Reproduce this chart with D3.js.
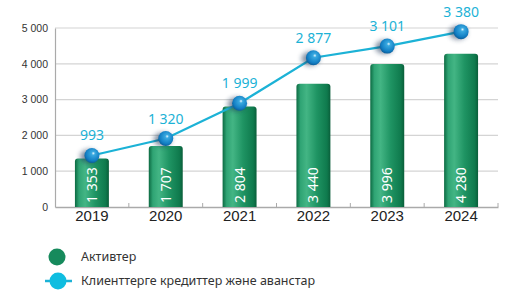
<!DOCTYPE html>
<html>
<head>
<meta charset="utf-8">
<script src="https://cdn.jsdelivr.net/npm/d3@7"></script>
<style>
  body { margin: 0; background: #fff; }
  svg { display: block; font-family: "Noto Sans", "Open Sans", sans-serif; }
</style>
</head>
<body>
<svg></svg>
<script>
// data
let years = ["2019", "2020", "2021", "2022", "2023", "2024"]
let assets = [1353, 1707, 2804, 3440, 3996, 4280]
let loans = [993, 1320, 1999, 2877, 3101, 3380]
let yTicks = [0, 1000, 2000, 3000, 4000, 5000]
let legendNames = ["Активтер", "Клиенттерге кредиттер және аванстар"]

let width = 517
let height = 307
let plotLeft = 55
let plotRight = 498
let plotTop = 28
let plotBottom = 207

let fmt = v => d3.format(",")(v).replace(/,/g, " ")

let svg = d3.select("svg")
    .attr("width", width)
    .attr("height", height)

let defs = svg.append("defs")

let barGrad = defs.append("linearGradient").attr("id", "barGrad")
    .attr("x1", "0").attr("x2", "1").attr("y1", "0").attr("y2", "0")
barGrad.append("stop").attr("offset", "0%").attr("stop-color", "#0c6a42")
barGrad.append("stop").attr("offset", "12%").attr("stop-color", "#2fa474")
barGrad.append("stop").attr("offset", "30%").attr("stop-color", "#43b584")
barGrad.append("stop").attr("offset", "60%").attr("stop-color", "#1f9463")
barGrad.append("stop").attr("offset", "90%").attr("stop-color", "#0f7a4d")
barGrad.append("stop").attr("offset", "100%").attr("stop-color", "#0a5e3a")

let ballGrad = defs.append("radialGradient").attr("id", "ballGrad")
    .attr("cx", "55%").attr("cy", "40%").attr("r", "60%")
    .attr("fx", "60%").attr("fy", "35%")
ballGrad.append("stop").attr("offset", "0%").attr("stop-color", "#e8f8ff")
ballGrad.append("stop").attr("offset", "20%").attr("stop-color", "#39a9e0")
ballGrad.append("stop").attr("offset", "75%").attr("stop-color", "#137fc4")
ballGrad.append("stop").attr("offset", "100%").attr("stop-color", "#0b5f9c")

let blur = defs.append("filter").attr("id", "shadow")
    .attr("x", "-100%").attr("y", "-100%").attr("width", "300%").attr("height", "300%")
blur.append("feGaussianBlur").attr("stdDeviation", 2.5)

let xScale = d3.scaleBand()
    .domain(years)
    .range([plotLeft, plotRight])
    .paddingInner(0.54)
    .paddingOuter(0.27)

let yScale = d3.scaleLinear()
    .domain([0, 5000])
    .range([plotBottom, plotTop])

// the line sits on its own (unlabelled) scale in the original
let y2Scale = d3.scaleLinear()
    .domain([0, 3450])
    .range([plotBottom, plotTop])

// grid
svg.append("g")
    .selectAll("line")
    .data(yTicks.slice(1))
    .enter()
    .append("line")
    .attr("x1", plotLeft)
    .attr("x2", plotRight)
    .attr("y1", d => yScale(d))
    .attr("y2", d => yScale(d))
    .attr("stroke", "#d4d4d4")
    .attr("stroke-width", 1.2)

// y axis
let yAxis = d3.axisLeft(yScale)
    .tickValues(yTicks)
    .tickSize(0)
    .tickPadding(7)
    .tickFormat(fmt)

let yg = svg.append("g")
    .attr("transform", "translate(" + plotLeft + ",0)")
    .call(yAxis)
yg.select(".domain").attr("stroke", "#aaa").attr("stroke-width", 1.2)
yg.selectAll("text").style("font-size", "10.5px").attr("fill", "#333")

// x axis
let xAxis = d3.axisBottom(xScale).tickSize(0).tickPadding(5)
let xg = svg.append("g")
    .attr("transform", "translate(0," + plotBottom + ")")
    .call(xAxis)
xg.select(".domain").attr("stroke", "#aaa").attr("stroke-width", 1.5)
xg.selectAll("text").style("font-size", "15px").attr("fill", "#222").attr("dy", "0.6em")

// small separators between categories
svg.append("g")
    .selectAll("line")
    .data(years)
    .enter()
    .append("line")
    .attr("x1", d => xScale(d) + xScale.bandwidth() + xScale.step() * 0.27)
    .attr("x2", d => xScale(d) + xScale.bandwidth() + xScale.step() * 0.27)
    .attr("y1", plotBottom)
    .attr("y2", plotBottom - 4)
    .attr("stroke", "#aaa")

// bars
svg.append("g")
    .selectAll("path")
    .data(assets)
    .enter()
    .append("path")
    .attr("d", (d, i) => {
        let x0 = xScale(years[i])
        let w = xScale.bandwidth()
        let y0 = yScale(d)
        let r = 3
        return "M" + x0 + "," + plotBottom + "V" + (y0 + r) + "Q" + x0 + "," + y0 + " " + (x0 + r) + "," + y0 +
            "H" + (x0 + w - r) + "Q" + (x0 + w) + "," + y0 + " " + (x0 + w) + "," + (y0 + r) + "V" + plotBottom + "Z"
    })
    .attr("fill", "url(#barGrad)")

// bar values
svg.append("g")
    .selectAll("text")
    .data(assets)
    .enter()
    .append("text")
    .attr("transform", (d, i) => "translate(" + (xScale(years[i]) + xScale.bandwidth() / 2 + 5) + "," + (plotBottom - 4) + ") rotate(-90)")
    .attr("fill", "#fff")
    .style("font-size", "14px")
    .text(d => fmt(d))

// line
let line = d3.line()
    .x((d, i) => xScale(years[i]) + xScale.bandwidth() / 2)
    .y(d => y2Scale(d))

svg.append("path")
    .datum(loans)
    .attr("d", line)
    .attr("fill", "none")
    .attr("stroke", "#1cb2d6")
    .attr("stroke-width", 2.2)

// ball shadows
svg.append("g")
    .selectAll("ellipse")
    .data(loans)
    .enter()
    .append("ellipse")
    .attr("cx", (d, i) => xScale(years[i]) + xScale.bandwidth() / 2 - 3)
    .attr("cy", d => y2Scale(d) + 1)
    .attr("rx", 9)
    .attr("ry", 7)
    .attr("fill", "#1d3557")
    .attr("opacity", 0.55)
    .attr("filter", "url(#shadow)")

// balls
svg.append("g")
    .selectAll("circle")
    .data(loans)
    .enter()
    .append("circle")
    .attr("cx", (d, i) => xScale(years[i]) + xScale.bandwidth() / 2)
    .attr("cy", d => y2Scale(d))
    .attr("r", 7.5)
    .attr("fill", "url(#ballGrad)")

// line values
svg.append("g")
    .selectAll("text")
    .data(loans)
    .enter()
    .append("text")
    .attr("x", (d, i) => xScale(years[i]) + xScale.bandwidth() / 2)
    .attr("y", d => y2Scale(d) - 15)
    .attr("text-anchor", "middle")
    .attr("fill", "#1cb2d6")
    .style("font-size", "14px")
    .text(d => fmt(d))

// legend
let lg = svg.append("g")
lg.append("circle")
    .attr("cx", 57).attr("cy", 257).attr("r", 8.5)
    .attr("fill", "#168a5c")
lg.append("line")
    .attr("x1", 45).attr("x2", 72).attr("y1", 281).attr("y2", 281)
    .attr("stroke", "#1cb2d6").attr("stroke-width", 2.5)
lg.append("circle")
    .attr("cx", 58).attr("cy", 281).attr("r", 8.5)
    .attr("fill", "#0fbde0")
lg.selectAll("text")
    .data(legendNames)
    .enter()
    .append("text")
    .attr("x", 81)
    .attr("y", (d, i) => 257 + i * 24)
    .attr("dy", "0.35em")
    .attr("fill", "#333")
    .style("font-size", "12.5px")
    .text(d => d)
</script>
</body>
</html>
